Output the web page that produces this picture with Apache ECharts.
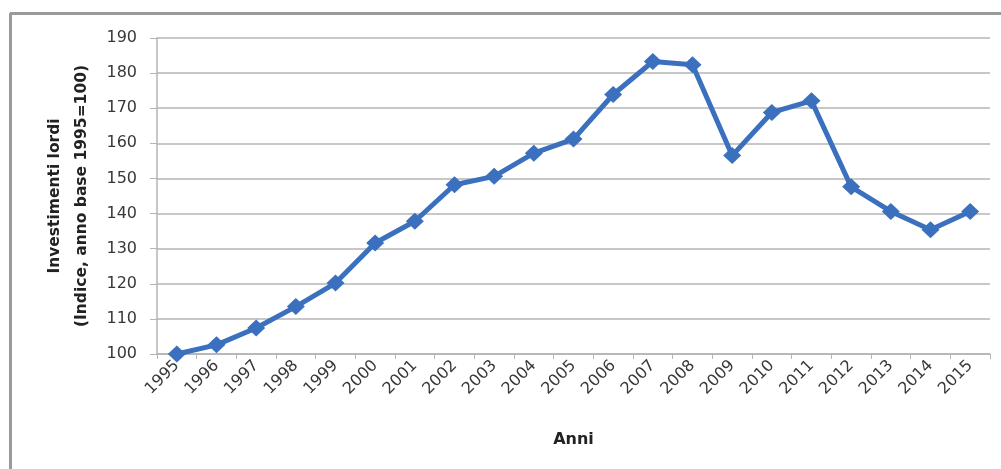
<!DOCTYPE html>
<html>
<head>
<meta charset="utf-8">
<script src="https://cdn.jsdelivr.net/npm/echarts@6/dist/echarts.min.js"></script>
<style>
  html, body { margin: 0; padding: 0; background: #ffffff; }
  #chart { width: 1001px; height: 469px; }
</style>
</head>
<body>
<div id="chart"></div>
<script>
// Gross investment index, base year 1995 = 100
const years = ['1995', '1996', '1997', '1998', '1999', '2000', '2001', '2002', '2003', '2004',
               '2005', '2006', '2007', '2008', '2009', '2010', '2011', '2012', '2013', '2014', '2015'];
const investimenti = [100, 102.6, 107.4, 113.5, 120.2, 131.6, 137.8, 148.2, 150.6, 157.2,
                      161.2, 173.9, 183.3, 182.4, 156.5, 168.8, 172.1, 147.6, 140.6, 135.4, 140.6];
const yTicks = { min: 100, max: 190, step: 10 };

const textColor = '#383838';
const gridColor = '#b4b4b4';
const lineColor = '#3b70be';
const fontFamily = '"DejaVu Sans", sans-serif';

const chart = echarts.init(document.getElementById('chart'), null, { renderer: 'canvas' });

chart.setOption({
  backgroundColor: '#ffffff',
  animation: false,
  graphic: [
    // frame around the chart area (top and left edges)
    { type: 'line', shape: { x1: 10, y1: 13.5, x2: 1001, y2: 13.5 },
      style: { stroke: '#9a9a9a', lineWidth: 3 } },
    { type: 'line', shape: { x1: 10.5, y1: 13, x2: 10.5, y2: 469 },
      style: { stroke: '#9a9a9a', lineWidth: 3 } }
  ],
  grid: { left: 157, top: 38, right: 11, bottom: 115, containLabel: false },
  xAxis: {
    type: 'category',
    data: years,
    boundaryGap: true,
    name: 'Anni',
    nameLocation: 'middle',
    nameGap: 78,
    nameTextStyle: { fontFamily, fontSize: 16, fontWeight: 'bold', color: '#222' },
    axisLine: { lineStyle: { color: gridColor, width: 1.5 } },
    axisTick: { show: true, length: 5, lineStyle: { color: gridColor } },
    axisLabel: { rotate: 45, margin: 9, fontFamily, fontSize: 16, color: textColor },
    splitLine: { show: false }
  },
  yAxis: {
    type: 'value',
    min: yTicks.min,
    max: yTicks.max,
    interval: yTicks.step,
    name: 'Investimenti lordi\n(Indice, anno base 1995=100)',
    nameLocation: 'middle',
    nameGap: 62,
    nameRotate: 90,
    nameTextStyle: { fontFamily, fontSize: 15.5, fontWeight: 'bold', color: '#222', lineHeight: 27 },
    axisLine: { show: true, lineStyle: { color: gridColor, width: 1.5 } },
    axisTick: { show: true, inside: false, length: 7, lineStyle: { color: gridColor } },
    axisLabel: { margin: 20, fontFamily, fontSize: 16, color: textColor },
    splitLine: { show: true, lineStyle: { color: gridColor, width: 1.5 } }
  },
  series: [{
    type: 'line',
    data: investimenti,
    symbol: 'diamond',
    symbolSize: [18, 17],
    lineStyle: { color: lineColor, width: 5 },
    itemStyle: { color: lineColor },
    z: 3
  }]
});
</script>
</body>
</html>
